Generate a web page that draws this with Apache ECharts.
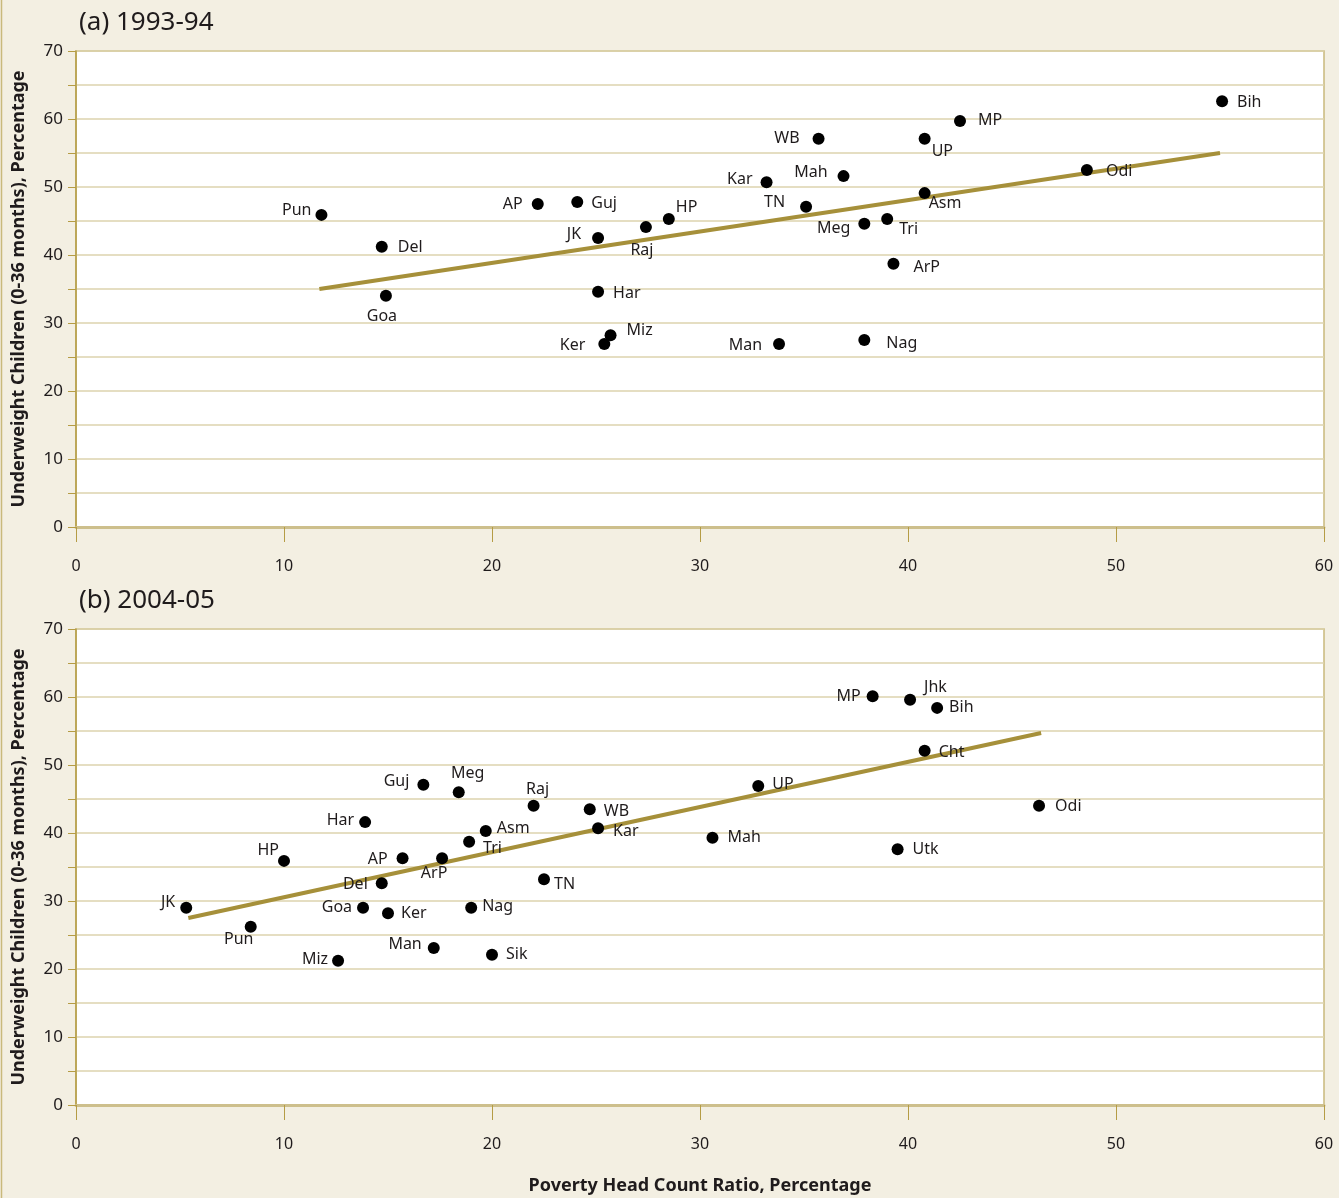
<!DOCTYPE html>
<html><head><meta charset="utf-8">
<script src="https://cdn.jsdelivr.net/npm/echarts@6/dist/echarts.min.js"></script>
<style>html,body{margin:0;padding:0;background:#f3efe2;}#c{width:1339px;height:1198px;}</style>
</head><body><div id="c"></div>
<script>
// ---- Panel (a) 1993-94 ----
const statesA = ['Pun','Del','Goa','AP','Guj','JK','Har','Ker','Miz','Raj','HP','Kar','Man','TN','WB','Mah','Meg','Nag','Tri','ArP','UP','Asm','MP','Odi','Bih'];
const povertyA = [11.8,14.7,14.9,22.2,24.1,25.1,25.1,25.4,25.7,27.4,28.5,33.2,33.8,35.1,35.7,36.9,37.9,37.9,39.0,39.3,40.8,40.8,42.5,48.6,55.1];
const underweightA = [45.9,41.2,34.0,47.5,47.8,42.5,34.6,26.9,28.2,44.1,45.3,50.7,26.9,47.1,57.1,51.6,44.6,27.5,45.3,38.7,57.1,49.1,59.7,52.5,62.6];
const trendXA = [11.7,55.0];
const trendYA = [35.0,55.0];

// ---- Panel (b) 2004-05 ----
const statesB = ['JK','Pun','HP','Miz','Goa','Har','Del','Ker','AP','Guj','Man','ArP','Meg','Tri','Nag','Asm','Sik','Raj','TN','WB','Kar','Mah','UP','MP','Utk','Jhk','Cht','Bih','Odi'];
const povertyB = [5.3,8.4,10.0,12.6,13.8,13.9,14.7,15.0,15.7,16.7,17.2,17.6,18.4,18.9,19.0,19.7,20.0,22.0,22.5,24.7,25.1,30.6,32.8,38.3,39.5,40.1,40.8,41.4,46.3];
const underweightB = [29.0,26.2,35.9,21.2,29.0,41.6,32.6,28.2,36.3,47.1,23.1,36.3,46.0,38.7,29.0,40.3,22.1,44.0,33.2,43.5,40.7,39.3,46.9,60.1,37.6,59.6,52.1,58.4,44.0];
const trendXB = [5.4,46.4];
const trendYB = [27.5,54.7];

const xTicks = [0,10,20,30,40,50,60];
const yTicks = [0,10,20,30,40,50,60,70];

// label placement (style only)
const labA = {
  Pun:['left',1,-4], Del:['right',5,1], Goa:['bottom',-4,2], AP:['left',-4,0], Guj:['right',3,1],
  JK:['left',-6,-4], Har:['right',4,2], Ker:['left',-8,1], Miz:['right',5,-5], Raj:['bottom',-4,4],
  HP:['right',-4,-12], Kar:['left',-3,-3], Man:['left',-6,1], TN:['left',-10,-4], WB:['left',-8,0],
  Mah:['left',-5,-4], Meg:['left',-3,5], Nag:['right',11,3], Tri:['right',1,10], ArP:['right',9,4],
  UP:['right',-4,13], Asm:['right',-7,10], MP:['right',7,-1], Odi:['right',8,1], Bih:['right',4,1]
};
const labB = {
  JK:['left',0,-5], Pun:['bottom',-12,-6], HP:['left',6,-10], Miz:['left',1,-1], Goa:['left',0,0],
  Har:['left',0,-2], Del:['left',-3,1], Ker:['right',2,0], AP:['left',-4,1], Guj:['left',-3,-3],
  Man:['left',-1,-3], ArP:['bottom',-8,-4], Meg:['top',9,0], Tri:['right',3,7], Nag:['right',0,-1],
  Asm:['right',0,-3], Sik:['right',3,0], Raj:['top',4,3], TN:['right',-1,5], WB:['right',3,2],
  Kar:['right',4,3], Mah:['right',4,0], UP:['right',3,-2], MP:['left',-1,0], Utk:['right',4,0],
  Jhk:['right',3,-12], Cht:['right',3,2], Bih:['right',1,0], Odi:['right',5,1]
};

const FONT = 'Noto Sans';
const GOLD = '#b59c45';
const GRIDC = '#ddd3ae';
const TREND = '#a6903a';
const TXT = '#1f1b1c';

function pts(names, xs, ys, lab) {
  return names.map((n, i) => {
    const l = lab[n];
    return { name: n, value: [xs[i], ys[i]],
      label: { position: l[0], offset: [l[1], l[2]] } };
  });
}
function line(xs, ys) { return xs.map((x, i) => [x, ys[i]]); }

function xAxis(idx) {
  return {
    type: 'value', gridIndex: idx, min: xTicks[0], max: xTicks[xTicks.length-1], interval: 10,
    offset: 8,
    axisLine: { show: true, lineStyle: { color: '#cdbf8c', width: 3 } },
    axisTick: { show: true, length: 15, lineStyle: { color: GOLD, width: 1 } },
    axisLabel: { color: TXT, fontFamily: FONT, fontSize: 16, margin: 23 },
    splitLine: { show: false },
    name: idx === 1 ? 'Poverty Head Count Ratio, Percentage' : '',
    nameLocation: 'middle', nameGap: 64,
    nameTextStyle: { color: TXT, fontFamily: FONT, fontSize: 18, fontWeight: 'bold' }
  };
}
function yAxis(idx) {
  return {
    type: 'value', gridIndex: idx, min: yTicks[0], max: yTicks[yTicks.length-1], interval: 5,
    axisLine: { show: true, lineStyle: { color: GOLD, width: 1.5 } },
    axisTick: { show: true, length: 8, lineStyle: { color: GOLD, width: 1 } },
    axisLabel: { color: TXT, fontFamily: FONT, fontSize: 17, margin: 13,
      formatter: v => (yTicks.indexOf(v) >= 0 ? String(v) : '') },
    splitLine: { show: true, lineStyle: { color: GRIDC, width: 1.5 } },
    name: 'Underweight Children (0-36 months), Percentage',
    nameLocation: 'middle', nameGap: 48, nameRotate: 90,
    nameTextStyle: { color: TXT, fontFamily: FONT, fontSize: 18, fontWeight: 'bold' }
  };
}
function scatter(idx, data) {
  return {
    type: 'scatter', xAxisIndex: idx, yAxisIndex: idx, data: data,
    symbolSize: 12, itemStyle: { color: '#000000', opacity: 1 }, z: 5,
    label: { show: true, formatter: '{b}', color: TXT, fontFamily: FONT, fontSize: 16, distance: 5 }
  };
}
function trend(idx, data) {
  return {
    type: 'line', xAxisIndex: idx, yAxisIndex: idx, data: data, showSymbol: false,
    lineStyle: { color: TREND, width: 4 }, z: 3, silent: true
  };
}

const chart = echarts.init(document.getElementById('c'), null, { renderer: 'canvas' });
chart.setOption({
  backgroundColor: '#f3efe2',
  animation: false,
  title: [
    { text: '(a) 1993-94', left: 74, top: 5, textStyle: { color: TXT, fontFamily: FONT, fontSize: 26, fontWeight: 'normal' } },
    { text: '(b) 2004-05', left: 74, top: 583, textStyle: { color: TXT, fontFamily: FONT, fontSize: 26, fontWeight: 'normal' } }
  ],
  grid: [
    { left: 76, top: 51, width: 1248, height: 476, show: true, backgroundColor: '#ffffff', borderColor: '#c9b97c', borderWidth: 1.5 },
    { left: 76, top: 629, width: 1248, height: 476, show: true, backgroundColor: '#ffffff', borderColor: '#c9b97c', borderWidth: 1.5 }
  ],
  xAxis: [xAxis(0), xAxis(1)],
  yAxis: [yAxis(0), yAxis(1)],
  graphic: [
    { type: 'line', shape: { x1: 1.5, y1: 0, x2: 1.5, y2: 1198 }, style: { stroke: '#c9b97c', lineWidth: 1.5 } }
  ],
  series: [
    trend(0, line(trendXA, trendYA)),
    scatter(0, pts(statesA, povertyA, underweightA, labA)),
    trend(1, line(trendXB, trendYB)),
    scatter(1, pts(statesB, povertyB, underweightB, labB))
  ]
});
</script></body></html>
